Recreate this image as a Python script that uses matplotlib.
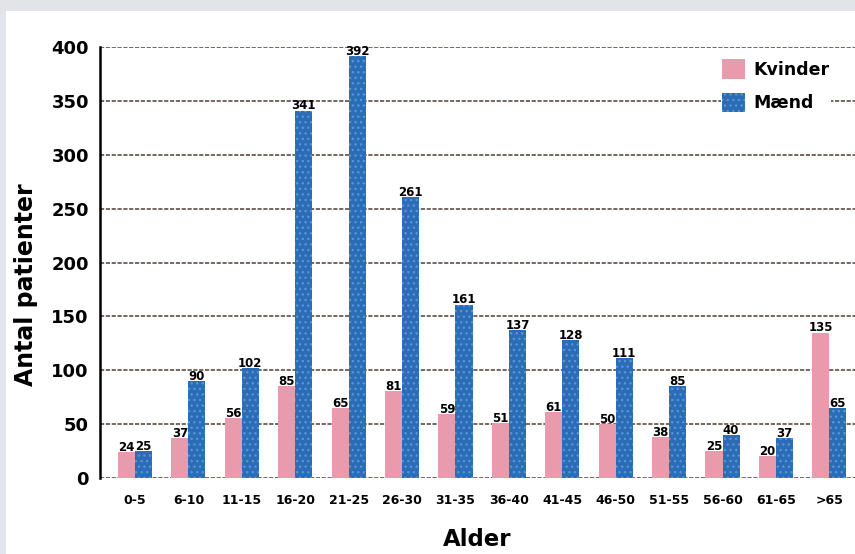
import matplotlib
matplotlib.use('Agg')
import matplotlib.pyplot as plt
import numpy as np

plt.rcParams['font.family'] = ['DejaVu Sans']
plt.rcParams['font.weight'] = 'bold'

# data
categories = ['0-5', '6-10', '11-15', '16-20', '21-25', '26-30', '31-35',
              '36-40', '41-45', '46-50', '51-55', '56-60', '61-65', '>65']
kvinder = [24, 37, 56, 85, 65, 81, 59, 51, 61, 50, 38, 25, 20, 135]
maend = [25, 90, 102, 341, 392, 261, 161, 137, 128, 111, 85, 40, 37, 65]
yticks = [0, 50, 100, 150, 200, 250, 300, 350, 400]

PINK = '#e99aac'
BLUE = '#2b6cb6'
GRID = '#5e4e44'

fig = plt.figure(figsize=(8.55, 5.54), dpi=100, facecolor='#e3e4e8')
# white panel inside the grey frame
fig.patches.append(plt.Rectangle((6 / 855, 0), 1, 1 - 11 / 554, transform=fig.transFigure,
                                 facecolor='white', edgecolor='none', zorder=-5))

ax = fig.add_axes([100 / 855, 1 - 478 / 554, (855 - 100) / 855, (478 - 47) / 554])
ax.set_facecolor('white')

x = np.arange(len(categories))
w = 0.32
b1 = ax.bar(x - w / 2, kvinder, w, color=PINK, label='Kvinder', zorder=3)
b2 = ax.bar(x + w / 2, maend, w, color=BLUE, label='Mænd', zorder=3,
            hatch='...', edgecolor='#5b93d4', linewidth=0)

for bars, vals in [(b1, kvinder), (b2, maend)]:
    for r, v in zip(bars, vals):
        ax.text(r.get_x() + r.get_width() / 2, v + 1, str(v), ha='center', va='baseline',
                fontsize=8.5, fontweight='bold', zorder=5)

ax.set_xlim(-0.655, 13.48)
ax.set_ylim(0, 400)
ax.set_yticks(yticks)
ax.set_xticks(x)
ax.set_xticklabels(categories, fontsize=9, fontweight='bold')
ax.tick_params(axis='y', labelsize=13, length=0, pad=8)
ax.tick_params(axis='x', length=0, pad=11.5)

ax.grid(axis='y', color=GRID, linestyle=(0, (2.5, 1)), linewidth=1.2, zorder=1)
for s in ['top', 'right', 'bottom']:
    ax.spines[s].set_visible(False)
ax.spines['left'].set_linewidth(1.8)
ax.spines['left'].set_color('black')
ax.spines['left'].set_zorder(4)

ax.set_ylabel('Antal patienter', fontsize=17, fontweight='bold')
ax.yaxis.set_label_coords(-0.082, 0.448)
ax.set_xlabel('Alder', fontsize=16.5, fontweight='bold')
ax.xaxis.set_label_coords(0.5, -0.117)

leg = ax.legend(loc='upper left', bbox_to_anchor=(712 / 855, 1 - 49 / 554),
                bbox_transform=fig.transFigure, fontsize=12.5, frameon=True,
                facecolor='white', edgecolor='none', framealpha=1, fancybox=False,
                handlelength=1.32, handleheight=1.32, labelspacing=0.8, handletextpad=0.45,
                borderpad=0.1)
leg.set_zorder(6)

fig.savefig('out.png', dpi=100, facecolor=fig.get_facecolor())
